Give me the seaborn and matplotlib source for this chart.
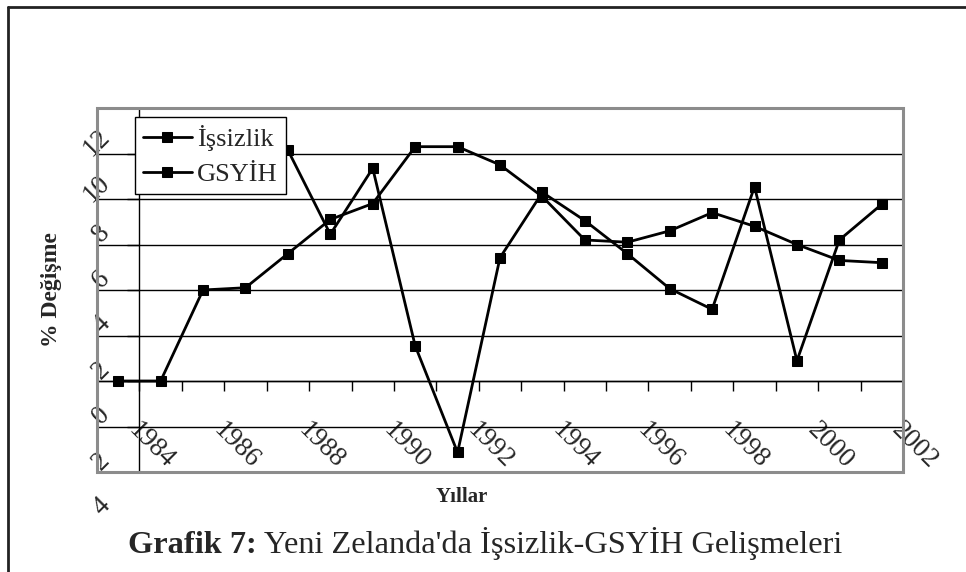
import numpy as np
import pandas as pd
import matplotlib
matplotlib.use("Agg")
import matplotlib.pyplot as plt
import seaborn as sns
from matplotlib.transforms import ScaledTranslation
from matplotlib.patches import Rectangle
from matplotlib.lines import Line2D

# ---------------- data ----------------
point_index = list(range(19))  # category slots along the x axis
unemployment = [0, 0, 4.0, 4.1, 5.6, 7.1, 7.8, 10.3, 10.3, 9.5, 8.1,
                6.2, 6.1, 6.6, 7.4, 6.8, 6.0, 5.3, 5.2]
gdp = [np.nan, np.nan, np.nan, np.nan, 10.15, 6.45, 9.35, 1.55, -3.14,
       5.42, 8.29, 7.05, 5.6, 4.06, 3.15, 8.54, 0.89, 6.2, 7.77]
series_names = ["İşsizlik", "GSYİH"]

x_tick_pos = [i + 0.5 for i in range(19)]
x_tick_labels = ["1984", "", "1986", "", "1988", "", "1990", "", "1992", "",
                 "1994", "", "1996", "", "1998", "", "2000", "", "2002"]
y_tick_pos = [-4, -2, 0, 2, 4, 6, 8, 10, 12]
y_tick_labels = ["4", "2", "0", "2", "4", "6", "8", "10", "12"]

x_label = "Yıllar"
y_label = "% Değişme"
caption_bold = "Grafik 7:"
caption_rest = " Yeni Zelanda'da İşsizlik-GSYİH Gelişmeleri"

# ---------------- style ----------------
sns.set_style("white")
plt.rcParams["font.family"] = ["Liberation Serif", "DejaVu Serif"]

W, H = 966, 572
fig = plt.figure(figsize=(W / 100, H / 100), dpi=100)
fig.patch.set_facecolor("white")
ax = fig.add_axes([97 / W, 100 / H, 806 / W, 364 / H])

df = pd.DataFrame({"x": point_index, "u": unemployment, "g": gdp})
line_kw = dict(color="black", marker="s", markersize=6.5, linewidth=2,
               markeredgecolor="black", markerfacecolor="black",
               errorbar=None, sort=False, ax=ax)
sns.lineplot(data=df, x="x", y="u", label=series_names[0], **line_kw)
sns.lineplot(data=df.dropna(), x="x", y="g", label=series_names[1], **line_kw)

ax.set_xlim(-0.5, 18.5)
ax.set_ylim(-4, 12)
ax.set_xlabel("")
ax.set_ylabel("")

# grid
ax.yaxis.grid(True, color="black", linewidth=1)
ax.xaxis.grid(False)

# spines: axes crossing inside the plot area
ax.spines["left"].set_position(("data", 0.5))
ax.spines["bottom"].set_position(("data", 0))
for s in ["left", "bottom"]:
    ax.spines[s].set_color("black")
    ax.spines[s].set_linewidth(1)
for s in ["top", "right"]:
    ax.spines[s].set_visible(False)
ax.add_patch(Rectangle((0, 0), 1, 1, transform=ax.transAxes, fill=False,
                       edgecolor="#8c8c8c", linewidth=2.2, clip_on=False,
                       zorder=5))

# ticks
ax.set_xticks(x_tick_pos, x_tick_labels)
ax.set_yticks(y_tick_pos, y_tick_labels)
ax.tick_params(axis="x", direction="out", length=7, width=1, color="black",
               pad=19.5, labelsize=19.5, bottom=True)
ax.tick_params(axis="y", direction="out", length=9, width=1, color="black",
               pad=8.6, labelsize=19.5, left=True)
for lab in ax.get_xticklabels():
    lab.set_rotation(-45)
    lab.set_ha("left")
    lab.set_va("top")
    lab.set_transform(lab.get_transform() +
                      ScaledTranslation(-16 / 100, 0, fig.dpi_scale_trans))
for lab in ax.get_yticklabels():
    lab.set_rotation(45)
    lab.set_ha("right")
    lab.set_va("center")
    lab.set_transform(lab.get_transform() +
                      ScaledTranslation(0, -35 / 100, fig.dpi_scale_trans))

# legend
handles, labels = ax.get_legend_handles_labels()
leg = ax.legend(handles, labels, loc="upper left",
                bbox_to_anchor=(135 / W, 1 - 117 / H),
                bbox_transform=fig.transFigure, frameon=True, fancybox=False,
                edgecolor="black", framealpha=1, borderaxespad=0,
                prop={"size": 19}, handlelength=1.86, handletextpad=0.2,
                labelspacing=0.45, borderpad=0.3)
leg.get_frame().set_linewidth(1)
leg.set_zorder(10)

# axis titles
fig.text(462 / W, 1 - 497 / H, x_label, ha="center", va="center",
         fontsize=15, fontweight="bold")
fig.text(52 / W, 1 - 290 / H, y_label, ha="center", va="center",
         rotation=90, fontsize=17, fontweight="bold")

# caption with bold prefix
t1 = fig.text(128 / W, 1 - 553 / H, caption_bold, ha="left", va="baseline",
              fontsize=23.3, fontweight="bold")
fig.canvas.draw()
bb = t1.get_window_extent()
fig.text(bb.x1 / W, 1 - 553 / H, caption_rest, ha="left", va="baseline",
         fontsize=23.3)

# outer page frame
fig.add_artist(Line2D([8 / W, 8 / W], [0, 1 - 7 / H], color="#222222",
                      linewidth=2, transform=fig.transFigure))
fig.add_artist(Line2D([8 / W, 1], [1 - 7 / H, 1 - 7 / H], color="#222222",
                      linewidth=2, transform=fig.transFigure))

fig.savefig("out.png", dpi=100)
